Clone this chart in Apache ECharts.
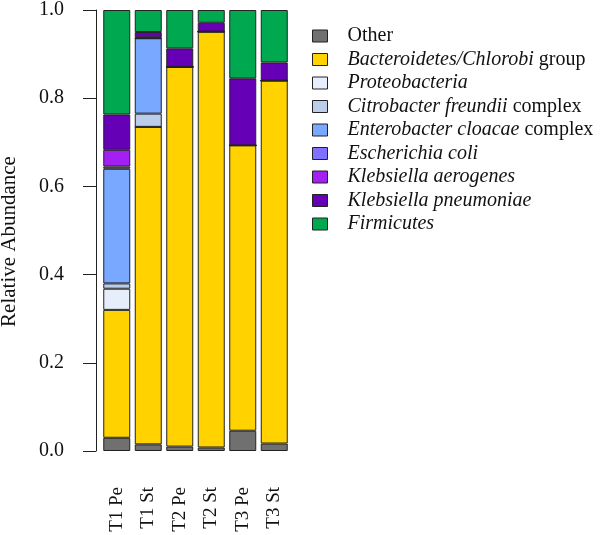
<!DOCTYPE html>
<html>
<head>
<meta charset="utf-8">
<script src="https://cdn.jsdelivr.net/npm/echarts@6/dist/echarts.min.js"></script>
<style>html,body{margin:0;padding:0;background:#fff}#c{width:600px;height:535px}</style>
</head>
<body>
<div id="c"></div>
<script>
var categories = ['T1 Pe', 'T1 St', 'T2 Pe', 'T2 St', 'T3 Pe', 'T3 St'];
var yTicks = ['0.0', '0.2', '0.4', '0.6', '0.8', '1.0'];
var other       = [0.030, 0.015, 0.010, 0.008, 0.046, 0.017];
var bacteroid   = [0.290, 0.720, 0.861, 0.943, 0.647, 0.823];
var proteo      = [0.048, 0.000, 0.000, 0.000, 0.000, 0.000];
var citrobacter = [0.012, 0.030, 0.000, 0.000, 0.000, 0.000];
var enterobact  = [0.260, 0.171, 0.000, 0.000, 0.000, 0.000];
var ecoli       = [0.005, 0.000, 0.000, 0.000, 0.000, 0.000];
var kaerogenes  = [0.038, 0.002, 0.000, 0.000, 0.000, 0.000];
var kpneumoniae = [0.080, 0.012, 0.042, 0.020, 0.152, 0.041];
var firmicutes  = [0.237, 0.050, 0.087, 0.029, 0.155, 0.119];

var seriesDefs = [
  {name: 'Other', label: 'Other', data: other, color: '#707070'},
  {name: 'Bacteroidetes/Chlorobi group', label: '{i|Bacteroidetes/Chlorobi} group', data: bacteroid, color: '#FFD200'},
  {name: 'Proteobacteria', label: '{i|Proteobacteria}', data: proteo, color: '#E6EEFC'},
  {name: 'Citrobacter freundii complex', label: '{i|Citrobacter freundii} complex', data: citrobacter, color: '#BCCDEA'},
  {name: 'Enterobacter cloacae complex', label: '{i|Enterobacter cloacae} complex', data: enterobact, color: '#78A8FF'},
  {name: 'Escherichia coli', label: '{i|Escherichia coli}', data: ecoli, color: '#8070FF'},
  {name: 'Klebsiella aerogenes', label: '{i|Klebsiella aerogenes}', data: kaerogenes, color: '#A420F2'},
  {name: 'Klebsiella pneumoniae', label: '{i|Klebsiella pneumoniae}', data: kpneumoniae, color: '#6600B6'},
  {name: 'Firmicutes', label: '{i|Firmicutes}', data: firmicutes, color: '#00A84F'}
];
var labelMap = {};
seriesDefs.forEach(function(s){ labelMap[s.name] = s.label; });

var font = '"Liberation Serif", "Times New Roman", serif';
var chart = echarts.init(document.getElementById('c'), null, {renderer: 'canvas'});
chart.setOption({
  animation: false,
  backgroundColor: '#fff',
  textStyle: {fontFamily: font},
  grid: {left: 101, right: 310, top: 10, bottom: 84, containLabel: false, outerBoundsMode: 'none'},
  legend: {
    orient: 'vertical', left: 312, top: 26, padding: 0,
    itemWidth: 15, itemHeight: 12, itemGap: 3.5,
    icon: 'rect',
    itemStyle: {borderColor: '#222', borderWidth: 1},
    formatter: function(n){ return labelMap[n]; },
    textStyle: {fontFamily: font, fontSize: 20, lineHeight: 20, color: '#111', padding: [0,0,0,15],
      rich: {i: {fontFamily: font, fontSize: 20, lineHeight: 20, fontStyle: 'italic', color: '#111'}}},
    data: seriesDefs.map(function(s){ return s.name; })
  },
  xAxis: {
    type: 'category', data: categories,
    axisLine: {show: false}, axisTick: {show: false},
    axisLabel: {rotate: 90, margin: 36, fontFamily: font, fontSize: 19, color: '#111'}
  },
  yAxis: {
    type: 'value', min: 0, max: 1, interval: 0.2, offset: 5,
    name: 'Relative Abundance', nameLocation: 'middle', nameGap: 76, nameRotate: 90,
    nameTextStyle: {fontFamily: font, fontSize: 21, color: '#111', padding: [0, 22, 0, 0]},
    axisLine: {show: true, lineStyle: {color: '#222', width: 1}},
    axisTick: {show: true, length: 13, lineStyle: {color: '#222'}},
    splitLine: {show: false},
    axisLabel: {margin: 32, fontFamily: font, fontSize: 20, color: '#111',
      formatter: function(v){ return yTicks[Math.round(v*5)]; }}
  },
  series: seriesDefs.map(function(s){
    return {
      name: s.name, type: 'bar', stack: 'total', barWidth: 27,
      data: s.data,
      itemStyle: {color: s.color, borderColor: '#222', borderWidth: 1},
      emphasis: {disabled: true}
    };
  })
});
</script>
</body>
</html>
